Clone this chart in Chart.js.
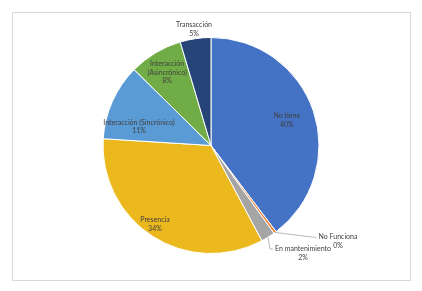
<!DOCTYPE html>
<html>
<head>
<meta charset="utf-8">
<script src="https://cdn.jsdelivr.net/npm/chart.js@4/dist/chart.umd.min.js"></script>
<style>
    html, body { margin: 0; padding: 0; background: #fff; }
    #frame { position: absolute; left: 12px; top: 12px; width: 397px; height: 267px; border: 1px solid #d9d9d9; }
    #wrap { position: absolute; left: 0; top: 0; width: 422px; height: 291px; }
</style>
</head>
<body>
<div id="frame"></div>
<div id="wrap"><canvas id="pie"></canvas></div>
<script>
// Chart data
const categories = ['No tiene', 'No Funciona', 'En mantenimiento', 'Presencia', 'Interacción (Sincrónico)', 'Interacción (Asincrónico)', 'Transacción'];
const labelLines = [['No tiene'], ['No Funciona'], ['En mantenimiento'], ['Presencia'], ['Interacción (Sincrónico)'], ['Interacción', '(Asincrónico)'], ['Transacción']];
const shares = [39.7, 0.4, 2.1, 33.8, 11.4, 8.0, 4.6];
const colors = ['#4472C4', '#ED7D31', '#A5A5A5', '#EBB81E', '#5B9BD5', '#70AD47', '#264478'];

// label placement per slice: f = fraction of radius, dx/dy = nudge, leader = draw line
const labelPlacement = [
    { f: 0.74, dx: 0, dy: 0 },
    { f: 1.0, dx: 63, dy: 9, leader: true },
    { f: 1.0, dx: 35, dy: 16, leader: true },
    { f: 0.89, dx: -4, dy: -2 },
    { f: 0.7, dx: -3, dy: 12 },
    { f: 0.79, dx: 0, dy: 0 },
    { f: 1.09, dx: 0, dy: 0 }
];

const sliceLabels = {
    id: 'sliceLabels',
    afterDatasetsDraw(chart) {
        const ctx = chart.ctx;
        const arcs = chart.getDatasetMeta(0).data;
        const total = shares.reduce((a, b) => a + b, 0);
        ctx.save();
        ctx.font = '7px Lato, "Open Sans", sans-serif';
        ctx.fillStyle = '#404040';
        ctx.textAlign = 'center';
        ctx.textBaseline = 'middle';
        const lh = 8.5;
        arcs.forEach(function(arc, i) {
            const p = arc.getProps(['x', 'y', 'startAngle', 'endAngle', 'outerRadius'], true);
            const mid = (p.startAngle + p.endAngle) / 2;
            const pl = labelPlacement[i];
            const ex = p.x + Math.cos(mid) * p.outerRadius;
            const ey = p.y + Math.sin(mid) * p.outerRadius;
            const cx = p.x + Math.cos(mid) * p.outerRadius * pl.f + pl.dx;
            const cy = p.y + Math.sin(mid) * p.outerRadius * pl.f + pl.dy;
            const lines = labelLines[i].concat([Math.round(shares[i] / total * 100) + '%']);
            const top = cy - (lines.length - 1) * lh / 2;
            if (pl.leader) {
                const w = ctx.measureText(lines[0]).width;
                const lx = cx - w / 2 - 2;
                ctx.strokeStyle = '#a6a6a6';
                ctx.lineWidth = 0.8;
                ctx.beginPath();
                ctx.moveTo(ex, ey);
                ctx.lineTo(lx - 3, top);
                ctx.lineTo(lx, top);
                ctx.stroke();
            }
            lines.forEach(function(t, k) {
                ctx.fillText(t, cx, top + k * lh);
            });
        });
        ctx.restore();
    }
};

new Chart(document.getElementById('pie'), {
    type: 'pie',
    data: {
        labels: categories,
        datasets: [{
            data: shares,
            backgroundColor: colors,
            borderColor: '#ffffff',
            borderWidth: 1
        }]
    },
    options: {
        responsive: true,
        maintainAspectRatio: false,
        animation: false,
        radius: 108,
        layout: { padding: 0 },
        plugins: {
            legend: { display: false },
            tooltip: { enabled: false }
        }
    },
    plugins: [sliceLabels]
});
</script>
</body>
</html>
